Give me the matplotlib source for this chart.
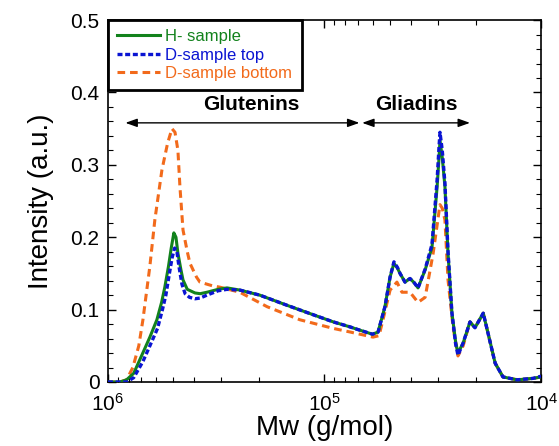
import matplotlib
matplotlib.use('Agg')
import matplotlib.pyplot as plt
from matplotlib.ticker import MultipleLocator, FuncFormatter

plt.rcParams['font.family'] = ['Liberation Sans', 'DejaVu Sans']
plt.rcParams['mathtext.fontset'] = 'custom'
plt.rcParams['mathtext.rm'] = 'Liberation Sans'

# molecular weight (g/mol) and intensity
mw_h = [1.0e6, 8.8e5, 8.2e5, 7.6e5, 6.9e5, 6.4e5, 5.94e5, 5.65e5, 5.46e5, 5.25e5, 5.1e5,
        4.96e5, 4.85e5, 4.75e5, 4.6e5, 4.5e5, 4.3e5, 3.96e5, 3.75e5, 3.49e5, 3.1e5, 2.82e5,
        2.46e5, 1.99e5, 1.49e5, 1.13e5, 9.1e4, 7.6e4, 7.1e4, 6.3e4, 6.0e4, 5.66e4, 5.26e4,
        4.98e4, 4.78e4, 4.6e4, 4.48e4, 4.25e4, 4.03e4, 3.85e4, 3.7e4, 3.43e4, 3.19e4, 3.02e4,
        2.96e4, 2.93e4, 2.86e4, 2.78e4, 2.69e4, 2.58e4, 2.48e4, 2.42e4, 2.29e4, 2.13e4,
        2.02e4, 1.85e4, 1.76e4, 1.63e4, 1.5e4, 1.29e4, 1.09e4, 1.0e4]
int_h = [0.0, 0.0, 0.003, 0.012, 0.04, 0.062, 0.086, 0.11, 0.131, 0.16, 0.185,
         0.206, 0.2, 0.178, 0.155, 0.141, 0.128, 0.123, 0.122, 0.124, 0.128, 0.13,
         0.127, 0.12, 0.106, 0.093, 0.083, 0.076, 0.073, 0.068, 0.066, 0.069, 0.104,
         0.145, 0.164, 0.157, 0.15, 0.138, 0.143, 0.137, 0.130, 0.155, 0.186, 0.27,
         0.31, 0.334, 0.31, 0.27, 0.178, 0.095, 0.055, 0.04, 0.054, 0.083,
         0.075, 0.095, 0.068, 0.026, 0.007, 0.003, 0.005, 0.007]

mw_top = [1.0e6, 8.8e5, 8.2e5, 7.6e5, 6.9e5, 6.4e5, 5.9e5, 5.6e5, 5.4e5, 5.2e5, 5.05e5,
          4.92e5, 4.8e5, 4.7e5, 4.55e5, 4.4e5, 4.2e5, 3.96e5, 3.75e5, 3.49e5, 3.1e5, 2.82e5,
          2.46e5, 1.99e5, 1.49e5, 1.13e5, 9.1e4, 7.6e4, 7.1e4, 6.3e4, 6.0e4, 5.66e4, 5.26e4,
          4.98e4, 4.78e4, 4.6e4, 4.48e4, 4.25e4, 4.03e4, 3.85e4, 3.7e4, 3.43e4, 3.19e4, 3.02e4,
          2.96e4, 2.93e4, 2.86e4, 2.78e4, 2.69e4, 2.58e4, 2.48e4, 2.42e4, 2.29e4, 2.13e4,
          2.02e4, 1.85e4, 1.76e4, 1.63e4, 1.5e4, 1.29e4, 1.09e4, 1.0e4]
int_top = [0.0, 0.0, 0.0, 0.006, 0.028, 0.05, 0.074, 0.1, 0.12, 0.15, 0.172,
           0.185, 0.18, 0.16, 0.135, 0.122, 0.117, 0.115, 0.116, 0.12, 0.126, 0.128,
           0.127, 0.12, 0.106, 0.093, 0.083, 0.076, 0.073, 0.068, 0.066, 0.069, 0.104,
           0.145, 0.166, 0.158, 0.15, 0.138, 0.143, 0.137, 0.130, 0.156, 0.19, 0.28,
           0.325, 0.345, 0.32, 0.275, 0.18, 0.095, 0.052, 0.037, 0.054, 0.083,
           0.075, 0.095, 0.068, 0.026, 0.007, 0.003, 0.005, 0.008]

mw_bot = [1.0e6, 8.8e5, 8.2e5, 7.67e5, 7.2e5, 6.89e5, 6.4e5, 6.07e5, 5.63e5, 5.3e5, 5.06e5,
          4.9e5, 4.75e5, 4.65e5, 4.5e5, 4.3e5, 4.18e5, 3.9e5, 3.76e5, 3.3e5, 3.04e5, 2.46e5,
          1.84e5, 1.30e5, 9.1e4, 7.6e4, 7.1e4, 5.97e4, 5.6e4, 5.37e4, 4.98e4, 4.63e4, 4.39e4,
          4.03e4, 3.7e4, 3.43e4, 3.15e4, 2.93e4, 2.86e4, 2.78e4, 2.69e4, 2.55e4, 2.42e4,
          2.29e4, 2.13e4, 2.02e4, 1.85e4, 1.76e4, 1.63e4, 1.5e4, 1.29e4, 1.09e4, 1.0e4]
int_bot = [0.0, 0.0, 0.003, 0.02, 0.05, 0.086, 0.16, 0.224, 0.293, 0.33, 0.35,
           0.345, 0.32, 0.27, 0.21, 0.18, 0.164, 0.145, 0.138, 0.133, 0.131, 0.124,
           0.104, 0.086, 0.074, 0.069, 0.067, 0.062, 0.064, 0.086, 0.127, 0.138, 0.124,
           0.124, 0.11, 0.117, 0.178, 0.245, 0.24, 0.224, 0.141, 0.076, 0.036,
           0.05, 0.083, 0.075, 0.095, 0.068, 0.026, 0.007, 0.003, 0.005, 0.007]

labels = ['H- sample', 'D-sample top', 'D-sample bottom']
colors = ['#12821c', '#0a14d2', '#f26a1b']

fig = plt.figure(figsize=(5.59, 4.46), dpi=100)
ax = fig.add_axes([0.193, 0.1435, 0.775, 0.8115])

ax.plot(mw_h, int_h, color=colors[0], lw=2.2, label=labels[0], zorder=3)
ax.plot(mw_top, int_top, color=colors[1], lw=2.4, ls=(0, (1.5, 0.8)), label=labels[1], zorder=4)
ax.plot(mw_bot, int_bot, color=colors[2], lw=2.2, ls=(0, (2.5, 1.6)), label=labels[2], zorder=2)

ax.set_xscale('log')
ax.set_xlim(1e6, 1e4)
ax.set_ylim(0, 0.5)
ax.yaxis.set_major_locator(MultipleLocator(0.1))
ax.yaxis.set_minor_locator(MultipleLocator(0.02))
ax.yaxis.set_major_formatter(FuncFormatter(lambda v, p: '%g' % round(v, 3)))
ax.tick_params(which='both', direction='in', top=True, right=True, labelsize=15)
ax.tick_params(which='major', length=6, width=1)
ax.tick_params(which='minor', length=3.5, width=0.8)
ax.tick_params(axis='x', pad=8)
ax.tick_params(axis='y', pad=6)
for s in ax.spines.values():
    s.set_linewidth(1.2)

ax.set_xlabel('Mw (g/mol)', fontsize=20, labelpad=0)
ax.set_ylabel('Intensity (a.u.)', fontsize=20, labelpad=12)

# region arrows
arrow = dict(arrowstyle='<|-|>,head_length=0.7,head_width=0.25', color='black', lw=1,
             shrinkA=0, shrinkB=0)
ax.annotate('', xy=(8.3e5, 0.358), xytext=(6.9e4, 0.358), arrowprops=arrow)
ax.annotate('', xy=(6.7e4, 0.358), xytext=(2.13e4, 0.358), arrowprops=arrow)
ax.text(2.18e5, 0.383, 'Glutenins', fontsize=15, fontweight='bold', ha='center', va='center')
ax.text(3.78e4, 0.383, 'Gliadins', fontsize=15, fontweight='bold', ha='center', va='center')

leg = ax.legend(loc='upper left', bbox_to_anchor=(0, 1), fontsize=12, handlelength=2.6,
                handletextpad=0.3, labelspacing=0.2, borderpad=0.55, borderaxespad=0,
                fancybox=False, framealpha=1)
leg.get_frame().set_edgecolor('black')
leg.get_frame().set_linewidth(2)
for t, c in zip(leg.get_texts(), colors):
    t.set_color(c)

plt.savefig('out.png', dpi=100)
